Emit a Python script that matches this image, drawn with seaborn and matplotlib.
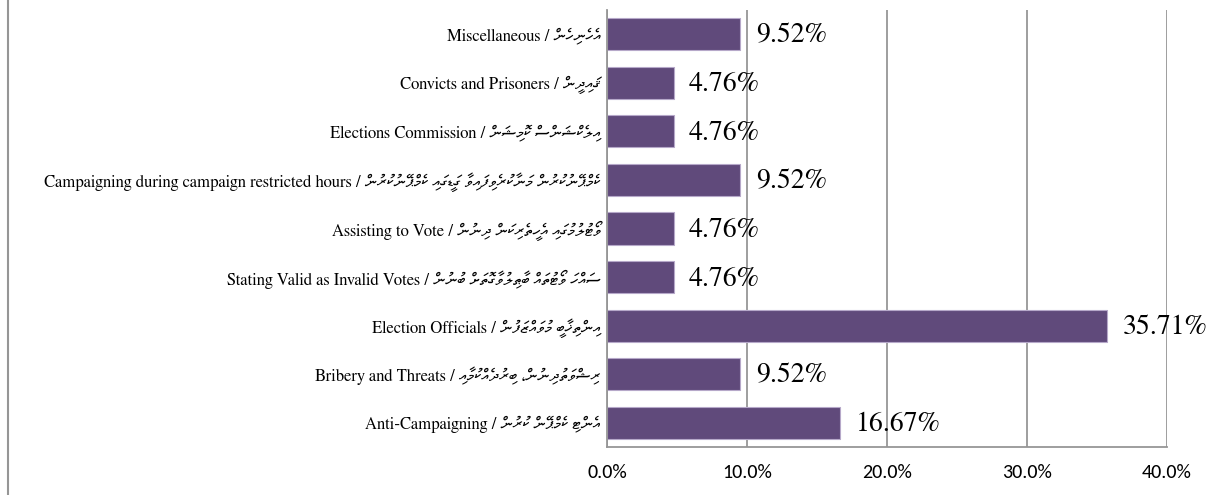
import unicodedata

import matplotlib
matplotlib.use("Agg")
import matplotlib.pyplot as plt
from matplotlib.lines import Line2D
from matplotlib.ticker import FixedLocator, PercentFormatter
import pandas as pd
import seaborn as sns

categories_en = [
    "Miscellaneous",
    "Convicts and Prisoners",
    "Elections Commission",
    "Campaigning during campaign restricted hours",
    "Assisting to Vote",
    "Stating Valid as Invalid Votes",
    "Election Officials",
    "Bribery and Threats",
    "Anti-Campaigning",
]
categories_dv = [
    "އެހެނިހެން",
    "ޤައިދީން",
    "އިލެކްޝަންސް ކޮމިޝަން",
    "ކެމްޕޭނުކުރުން މަނާކުރެވިފައިވާ ގަޑީގައި ކެމްޕޭނުކުރުން",
    "ވޯޓުލުމުގައި އެހީތެރިކަން ދިނުން",
    "ސައްހަ ވޯޓުތައް ބާޠިލުވާގޮތަށް ބުނުން",
    "އިންތިޚާބީ މުވައްޒަފުން",
    "ރިޝްވަތުދިނުން، ބިރުދެއްކުމާއި",
    "އެންޓި ކެމްޕޭން ކުރުން",
]
shares = [9.52, 4.76, 4.76, 9.52, 4.76, 4.76, 35.71, 9.52, 16.67]
x_ticks = [0, 10, 20, 30, 40]


def visual_rtl(s):
    # matplotlib has no bidi: reverse letter clusters, keep marks after their base
    clusters = []
    for ch in s:
        if clusters and unicodedata.combining(ch):
            clusters[-1] += ch
        else:
            clusters.append(ch)
    return "".join(reversed(clusters))


labels = [f"{en} / {visual_rtl(dv)}" for en, dv in zip(categories_en, categories_dv)]
df = pd.DataFrame({"label": labels, "share": shares})

sns.set_style("white")
plt.rcParams["text.color"] = "black"
plt.rcParams["xtick.color"] = "black"
plt.rcParams["ytick.color"] = "black"
serif = ["FreeSerif", "Liberation Serif", "DejaVu Sans"]
sans = ["Carlito", "Open Sans", "DejaVu Sans"]
grey = "#969696"

fig = plt.figure(figsize=(12.32, 4.95), dpi=100)
ax = fig.add_axes([607 / 1232, 48 / 495, 560 / 1232, 437 / 495])

sns.barplot(data=df, x="share", y="label", orient="h", color="#604a7b",
            saturation=1, width=0.66, edgecolor="#b6a8c9", linewidth=0.8, ax=ax)

ax.set_xlim(0, 40)
ax.set_ylim(len(labels) - 0.5, -0.5)
ax.xaxis.set_major_locator(FixedLocator(x_ticks))
ax.xaxis.set_major_formatter(PercentFormatter(decimals=1))
ax.grid(axis="x", color=grey, linewidth=1.3)
ax.set_axisbelow(True)
ax.set_xlabel("")
ax.set_ylabel("")

for side in ["top", "right"]:
    ax.spines[side].set_visible(False)
for side in ["left", "bottom"]:
    ax.spines[side].set_color(grey)
    ax.spines[side].set_linewidth(1.3)

ax.tick_params(axis="x", length=7, direction="inout", color=grey, width=1.3,
               labelsize=14.5, pad=9)
ax.tick_params(axis="y", length=0, labelsize=12, pad=4.5)
ax.set_yticks([i - 0.5 for i in range(len(labels) + 1)], minor=True)
ax.tick_params(axis="y", which="minor", length=5, color=grey, width=1.3)
for t in ax.get_yticklabels():
    t.set_family(serif)
for t in ax.get_xticklabels():
    t.set_family(sans)

for i, v in enumerate(shares):
    ax.text(v + 1.1, i + 0.04, f"{v:.2f}%", va="center", ha="left",
            fontsize=20, family=serif)

fig.add_artist(Line2D([8 / 1232, 8 / 1232], [0, 1], color=grey, linewidth=1.5))

fig.savefig("out.png", dpi=100)
